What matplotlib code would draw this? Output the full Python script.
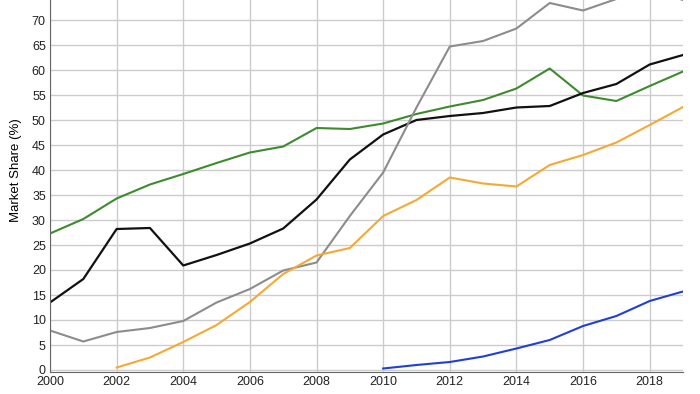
import numpy as np
import matplotlib.pyplot as plt

plt.rcParams['font.family'] = ['Liberation Sans', 'DejaVu Sans']

years = list(range(2000, 2020))

green = [27.3, 30.2, 34.3, 37.1, 39.2, 41.4, 43.5, 44.7, 48.4, 48.2, 49.3, 51.2,
         52.7, 54.0, 56.3, 60.3, 54.9, 53.8, 56.8, 59.7]
black = [13.5, 18.2, 28.2, 28.4, 20.9, 23.0, 25.3, 28.3, 34.1, 42.1, 47.1, 50.0,
         50.8, 51.4, 52.5, 52.8, 55.4, 57.2, 61.1, 63.0]
gray = [7.9, 5.7, 7.6, 8.4, 9.8, 13.5, 16.2, 19.9, 21.5, 30.8, 39.5, 52.5,
        64.7, 65.8, 68.3, 73.4, 71.9, 74.2, 76.0, 74.0]
orange_years = list(range(2002, 2020))
orange = [0.5, 2.5, 5.6, 9.0, 13.6, 19.2, 22.9, 24.4, 30.8, 34.0, 38.5, 37.3,
          36.7, 41.0, 43.0, 45.5, 49.0, 52.6]
blue_years = list(range(2010, 2020))
blue = [0.3, 1.0, 1.6, 2.7, 4.3, 6.0, 8.8, 10.8, 13.8, 15.7]

fig = plt.figure(figsize=(7, 3.94), dpi=100)
ax = fig.add_axes([50 / 700, 1 - 372 / 394, 633 / 700, 372 / 394])

ax.plot(years, green, color='#3d8b2e', lw=1.5)
ax.plot(years, black, color='#111111', lw=1.6)
ax.plot(years, gray, color='#8c8c8c', lw=1.5)
ax.plot(orange_years, orange, color='#f5a935', lw=1.5)
ax.plot(blue_years, blue, color='#1f3fd8', lw=1.5)

ax.set_xlim(2000, 2019)
ax.set_ylim(-0.4, 74)
ax.set_xticks(range(2000, 2019, 2))
ax.set_yticks(range(0, 75, 5))
ax.grid(True, color='#cccccc', lw=1)
ax.set_axisbelow(True)
for s in ['top', 'right']:
    ax.spines[s].set_visible(False)
ax.spines['left'].set_color('#666666')
ax.spines['bottom'].set_color('#666666')
ax.tick_params(length=0, labelsize=9, colors='#222222', pad=3)
ax.set_ylabel('Market Share (%)', fontsize=9.5)
ax.yaxis.set_label_coords(-0.045, 0.543)

# the 75 label is cut off by the top edge, as in the original
ax.text(-0.005, 75, '75', transform=ax.get_yaxis_transform(), ha='right',
        va='center', fontsize=9, color='#222222', clip_on=False)

fig.savefig('out.png', dpi=100)
